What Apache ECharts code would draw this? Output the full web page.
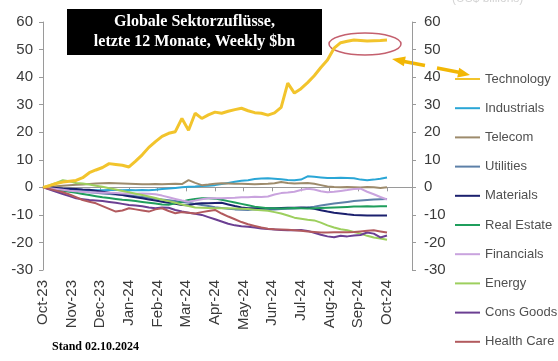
<!DOCTYPE html>
<html><head><meta charset="utf-8">
<script src="https://cdn.jsdelivr.net/npm/echarts@6/dist/echarts.min.js"></script>
<style>html,body{margin:0;padding:0;background:#fff}#c{width:558px;height:361px}</style>
</head><body><div id="c"></div>
<script>
const months = ['Oct-23','Nov-23','Dec-23','Jan-24','Feb-24','Mar-24','Apr-24','May-24','Jun-24','Jul-24','Aug-24','Sep-24','Oct-24'];
const yTicks = [-30,-20,-10,0,10,20,30,40,50,60];
const names = ['Technology','Industrials','Telecom','Utilities','Materials','Real Estate','Financials','Energy','Cons Goods','Health Care'];
const colors = ['#f2c42c','#2aa6d6','#9d8b6c','#5d80a8','#1b206e','#1f9e5c','#c9a3de','#9dcf5e','#6b3f92','#b25a5e'];

const technology = [0,0.6,1.4,1.9,2.2,2.5,3.5,5.3,6.3,7.2,8.6,8.3,8.0,7.4,9.5,11.8,14.5,16.6,18.5,19.6,20.2,25,20.7,26.9,25,26.3,27.3,26.9,27.6,28.2,28.7,27.8,27.1,26.9,26.2,27,29,37.8,34.2,35.8,38,40.5,43.5,46.2,50.5,52.5,53,53.5,53.3,53.1,53.2,53.3,53.5];
const industrials = [0,-0.2,-0.4,-0.6,-0.8,-0.9,-1.0,-1.0,-1.1,-1.1,-1.0,-1.0,-1.1,-1.0,-1.1,-1.0,-1.1,-0.9,-0.6,-0.4,-0.2,0,0.2,0.3,0.5,0.6,0.8,1.2,1.6,2.0,2.4,2.6,3.0,3.2,3.3,3.1,2.9,2.7,2.6,2.8,4.0,3.8,3.6,3.4,3.4,3.5,3.4,3.3,2.8,2.6,2.8,3.1,3.6];
const telecom = [0,0.2,0.4,0.6,0.8,0.9,1.0,1.2,1.4,1.5,1.6,1.5,1.4,1.3,1.2,1.1,1.1,1.2,1.1,1.2,1.3,1.2,2.6,1.6,0.8,1.0,1.3,1.5,1.4,1.3,1.3,1.2,1.1,1.2,1.3,1.5,1.9,1.6,1.4,1.5,1.6,1.3,0.8,0.3,0.1,0,0.1,0,-0.1,0.1,0,-0.2,0];
const utilities = [0,-0.3,-0.5,-0.8,-1.0,-1.3,-1.5,-1.8,-2.0,-2.2,-2.4,-2.6,-2.8,-3.0,-3.2,-3.5,-3.8,-4.1,-4.4,-4.7,-5.0,-5.3,-5.6,-6.0,-6.4,-6.8,-7.2,-7.5,-7.8,-8.0,-8.1,-8.2,-8.0,-8.1,-8.2,-8.0,-7.9,-7.8,-7.7,-7.5,-7.3,-7.0,-6.6,-6.2,-5.9,-5.6,-5.3,-5.0,-4.8,-4.6,-4.4,-4.3,-4.2];
const materials = [0,0,-0.2,-0.4,-0.5,-0.6,-0.8,-0.9,-1.2,-1.6,-2.0,-2.4,-2.8,-3.2,-3.6,-4.0,-4.4,-4.8,-5.2,-5.6,-6.0,-6.4,-6.5,-6.0,-5.8,-5.8,-5.7,-5.6,-6.2,-6.8,-7.3,-7.6,-7.6,-7.5,-7.6,-7.6,-7.5,-7.4,-7.4,-7.3,-7.4,-7.8,-8.3,-8.8,-9.2,-9.5,-9.8,-10.0,-10.1,-10.2,-10.2,-10.2,-10.2];
const realEstate = [0,-0.4,-0.8,-1.2,-1.6,-2.0,-2.4,-2.8,-3.2,-3.6,-3.9,-4.2,-4.5,-4.7,-5.0,-5.3,-5.6,-5.9,-6.2,-6.3,-5.8,-5.2,-4.6,-4.2,-4.0,-4.0,-4.1,-4.5,-5.0,-5.5,-6.0,-6.5,-7.0,-7.3,-7.6,-7.6,-7.7,-7.6,-7.5,-7.6,-7.7,-7.6,-7.5,-7.4,-7.3,-7.2,-7.1,-7.0,-7.0,-6.9,-7.0,-6.9,-6.9];
const financials = [0,-0.3,-0.6,-0.9,-1.2,-1.4,-1.6,-1.8,-1.9,-2.0,-2.0,-2.1,-2.2,-2.2,-2.3,-2.2,-2.3,-2.5,-3.0,-3.6,-4.2,-4.8,-5.2,-4.8,-4.3,-4.0,-4.0,-4.0,-3.9,-3.8,-3.6,-3.6,-3.4,-3.5,-3.3,-2.6,-2.1,-1.9,-1.6,-1.0,-0.5,-0.8,-1.4,-1.8,-1.6,-1.3,-1.0,-0.6,-0.5,-1.6,-2.5,-3.5,-4.4];
const energy = [0,0.8,1.6,2.6,2.2,1.6,1.4,1.0,0.6,0.2,-0.3,-0.8,-1.3,-1.8,-2.3,-2.8,-3.3,-3.9,-4.5,-5.0,-5.6,-6.2,-6.8,-7.3,-7.4,-7.5,-7.6,-7.6,-7.6,-7.7,-7.8,-7.9,-8.1,-8.3,-8.5,-9.0,-9.5,-10.2,-11.0,-11.4,-11.8,-12.0,-12.8,-13.8,-14.6,-15.2,-15.6,-16.2,-16.8,-17.6,-18.2,-18.6,-19.0];
const consGoods = [0,-0.8,-1.6,-2.4,-3.2,-4.0,-4.3,-4.6,-4.8,-5.0,-5.3,-5.6,-6.0,-6.4,-6.6,-6.9,-7.3,-7.6,-7.3,-7.4,-8.2,-8.8,-9.2,-9.6,-10.0,-10.8,-11.6,-12.4,-13.2,-13.8,-14.1,-14.3,-14.6,-14.9,-15.1,-15.3,-15.5,-15.6,-15.6,-15.5,-15.8,-16.5,-17.2,-17.8,-18.1,-17.6,-17.8,-17.5,-17.3,-16.4,-16.8,-18.2,-17.5];
const healthCare = [0,-0.6,-1.2,-1.8,-2.6,-3.6,-4.6,-5.2,-5.8,-6.8,-7.8,-8.8,-8.4,-7.6,-8.0,-8.4,-8.8,-8.0,-7.6,-8.6,-9.4,-9.0,-9.2,-9.5,-9.0,-8.6,-8.2,-9.5,-10.6,-11.6,-12.6,-13.4,-14.0,-14.6,-15.0,-15.2,-15.3,-15.4,-15.6,-15.8,-16.0,-16.2,-16.4,-16.4,-16.3,-16.3,-16.3,-16.2,-16.0,-15.8,-15.6,-16.0,-16.4];

const seriesValues = [technology,industrials,telecom,utilities,materials,realEstate,financials,energy,consGoods,healthCare];

// plot spans from Oct-23 (x=43) to right axis (x=412); Oct-24 sits at x=387
const spanFactor = 369/344;
const weekMax = (technology.length - 1) * spanFactor;
const monthMax = (months.length - 1) * spanFactor;

const font = 'Liberation Sans, Arial, Helvetica, sans-serif';
const axisGray = '#9a9a9a';
const labelColor = '#3a3a3a';

const chart = echarts.init(document.getElementById('c'), null, {renderer:'canvas'});
const yAxisCommon = {
  type:'value', min:yTicks[0], max:yTicks[yTicks.length-1], interval:10,
  splitLine:{show:false},
  axisLine:{show:true, onZero:false, lineStyle:{color:axisGray, width:1}},
  axisTick:{show:true, length:4, lineStyle:{color:axisGray}},
  axisLabel:{color:labelColor, fontSize:15, fontFamily:font}
};
const monthFmt = v => (Math.abs(v - Math.round(v)) < 1e-6 && months[Math.round(v)]) ? months[Math.round(v)] : '';

chart.setOption({
  animation:false,
  backgroundColor:'#ffffff',
  grid:{left:43, right:146, top:22, bottom:91, containLabel:false},
  xAxis:[
    {type:'value', min:0, max:weekMax, show:false, axisLine:{onZero:false}, splitLine:{show:false}},
    {type:'value', min:0, max:monthMax, interval:1, position:'bottom',
     splitLine:{show:false},
     axisLine:{show:true, onZero:true, lineStyle:{color:axisGray, width:1}},
     axisTick:{show:true, length:4, lineStyle:{color:axisGray}},
     axisLabel:{show:false}},
    {type:'value', min:0, max:monthMax, interval:1, position:'bottom',
     splitLine:{show:false},
     axisLine:{show:false, onZero:false},
     axisTick:{show:false},
     axisLabel:{show:true, rotate:90, margin:10, color:labelColor, fontSize:15, fontFamily:font, formatter:monthFmt, showMaxLabel:false}}
  ],
  yAxis:[
    Object.assign({}, yAxisCommon, {position:'left', axisLabel:Object.assign({}, yAxisCommon.axisLabel, {margin:10})}),
    Object.assign({}, yAxisCommon, {position:'right', axisLabel:Object.assign({}, yAxisCommon.axisLabel, {margin:12})})
  ],
  legend:{
    orient:'vertical', left:455, top:72, padding:0, itemWidth:25, itemHeight:2, itemGap:15.2,
    icon:'rect',
    textStyle:{color:'#505050', fontSize:13, fontFamily:font, lineHeight:14},
    data:names
  },
  series: names.map((n,k)=>({
    name:n, type:'line', xAxisIndex:0, yAxisIndex:0,
    showSymbol:false, symbol:'none',
    z: k===0 ? 5 : 2,
    lineStyle:{width:k===0?3:2, color:colors[k]},
    itemStyle:{color:colors[k]},
    data: seriesValues[k].map((v,i)=>[i,v])
  })),
  graphic:[
    {type:'rect', shape:{x:67, y:9, width:255, height:46}, style:{fill:'#000'}},
    {type:'text', x:194.5, y:22, style:{text:'Globale Sektorzuflüsse,', fill:'#fff', font:'bold 16px "Liberation Serif", "Times New Roman", serif', textAlign:'center', textVerticalAlign:'middle'}},
    {type:'text', x:194.5, y:42, style:{text:'letzte 12 Monate, Weekly $bn', fill:'#fff', font:'bold 16px "Liberation Serif", "Times New Roman", serif', textAlign:'center', textVerticalAlign:'middle'}},
    {type:'ellipse', shape:{cx:365, cy:44, rx:36, ry:11}, style:{fill:null, stroke:'#c4606e', lineWidth:1.5}},
    {type:'line', shape:{x1:399, y1:60.5, x2:425, y2:65.5}, style:{stroke:'#f2b705', lineWidth:3.5}},
    {type:'line', shape:{x1:437, y1:68, x2:460, y2:72.5}, style:{stroke:'#f2b705', lineWidth:3.5}},
    {type:'polygon', shape:{points:[[392,59],[403.8,66.3],[405.8,56.5]]}, style:{fill:'#f2b705'}},
    {type:'polygon', shape:{points:[[470,75],[457.2,77.5],[459.2,67.7]]}, style:{fill:'#f2b705'}},
    {type:'text', x:52, y:347, style:{text:'Stand 02.10.2024', fill:'#000', font:'bold 12px "Liberation Serif", "Times New Roman", serif', textVerticalAlign:'middle'}},
    {type:'text', x:452, y:-7, style:{text:'(US$ billions)', fill:'#d4d4d4', font:'12px "Liberation Sans", Arial, sans-serif'}}
  ]
});
</script>
</body></html>
